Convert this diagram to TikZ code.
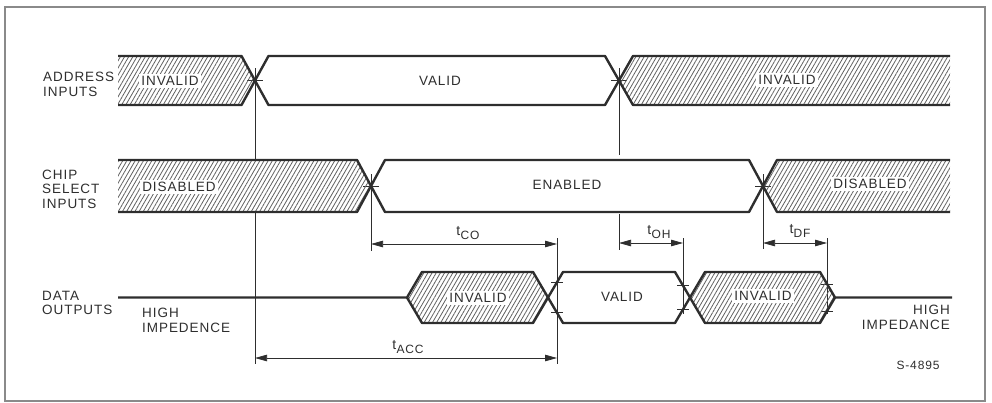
\documentclass[tikz,border=0pt]{standalone}
\usepackage{fontspec}
\setmainfont{Liberation Sans}[LetterSpace=7]
\usetikzlibrary{arrows.meta,patterns.meta}
\definecolor{ink}{HTML}{2E2E2E}
\definecolor{hatchc}{HTML}{606060}
\definecolor{framec}{HTML}{8A8A8A}
\newcommand\tsub[1]{{\fontsize{14}{14}\selectfont t}\kern0.3pt\raisebox{-4pt}{\fontsize{12}{12}\selectfont #1}}
\begin{document}
\begin{tikzpicture}[x=1pt,y=-1pt,
  bus/.style={draw=ink,line width=2.4pt,line join=round},
  hatched/.style={pattern={Lines[angle=60,distance=3.6pt,line width=0.8pt]},pattern color=hatchc},
  guide/.style={draw=ink,line width=0.75pt},
  dimline/.style={draw=ink,line width=0.75pt,{Triangle[length=12pt,width=6.5pt]}-{Triangle[length=12pt,width=6.5pt]}},
  lbl/.style={font=\fontsize{13.5}{14.5}\selectfont,text=ink,inner sep=0pt,align=left},
  buslbl/.style={font=\fontsize{13.5}{14.5}\selectfont,text=ink,fill=white,inner sep=2pt},
  tlbl/.style={text=ink,inner sep=0pt}]
\useasboundingbox (0,0) rectangle (992,402);
\draw[framec,line width=1.4pt] (5,7) rectangle (985,401);

% ---------- guide coordinates ----------
\coordinate (g1a) at (255,68);  \coordinate (g1b) at (255,160);
\coordinate (g1c) at (255,212); \coordinate (g1d) at (255,364);
\coordinate (g2a) at (619,68);  \coordinate (g2b) at (619,155);
\coordinate (g2c) at (619,214); \coordinate (g2d) at (619,250);
\coordinate (g3a) at (371,174); \coordinate (g3b) at (371,251);
\coordinate (g4a) at (763,174); \coordinate (g4b) at (763,249);
\coordinate (g5a) at (557,238); \coordinate (g5b) at (557,364);
\coordinate (g6a) at (683,238); \coordinate (g6b) at (683,314);
\coordinate (g7a) at (827,238); \coordinate (g7b) at (827,314);

\draw[guide] (g1a) -- (g1b); \draw[guide] (g1c) -- (g1d);
\draw[guide] (g2a) -- (g2b); \draw[guide] (g2c) -- (g2d);
\draw[guide] (g3a) -- (g3b);
\draw[guide] (g4a) -- (g4b);
\draw[guide] (g5a) -- (g5b);
\draw[guide] (g6a) -- (g6b);
\draw[guide] (g7a) -- (g7b);

% crossing ticks
\draw[guide] (247,80.5) -- (263,80.5);
\draw[guide] (611,80.5) -- (627,80.5);
\draw[guide] (363,186) -- (379,186);
\draw[guide] (755,186) -- (771,186);
\draw[guide] (551,282.2) -- (563,282.2);
\draw[guide] (551,312.8) -- (563,312.8);
\draw[guide] (677,285.6) -- (689,285.6);
\draw[guide] (677,309.4) -- (689,309.4);
\draw[guide] (821,283.9) -- (833,283.9);
\draw[guide] (821,311.1) -- (833,311.1);

% ---------- hatched areas ----------
\fill[hatched] (118,56) -- (241.5,56) -- (255,80.5) -- (241.5,105) -- (118,105) -- cycle;
\fill[hatched] (950,56) -- (633,56) -- (619,80.5) -- (633,105) -- (950,105) -- cycle;
\fill[hatched] (118,160) -- (357,160) -- (371,186) -- (357,212) -- (118,212) -- cycle;
\fill[hatched] (950,160) -- (777,160) -- (763,186) -- (777,212) -- (950,212) -- cycle;
\fill[hatched] (407,297.5) -- (422,272) -- (533,272) -- (548,297.5) -- (533,323) -- (422,323) -- cycle;
\fill[hatched] (690,297.5) -- (705,272) -- (820,272) -- (835,297.5) -- (820,323) -- (705,323) -- cycle;

% ---------- bus outlines ----------
\draw[bus] (118,56) -- (241.5,56) -- (268.5,105) -- (605,105) -- (633,56) -- (950,56);
\draw[bus] (118,105) -- (241.5,105) -- (268.5,56) -- (605,56) -- (633,105) -- (950,105);
\draw[bus] (118,160) -- (357,160) -- (385,212) -- (749,212) -- (777,160) -- (950,160);
\draw[bus] (118,212) -- (357,212) -- (385,160) -- (749,160) -- (777,212) -- (950,212);
\draw[bus] (118,297.5) -- (407,297.5) -- (422,272) -- (533,272) -- (563,323) -- (675,323) -- (705,272) -- (820,272) -- (835,297.5) -- (952,297.5);
\draw[bus] (407,297.5) -- (422,323) -- (533,323) -- (563,272) -- (675,272) -- (705,323) -- (820,323) -- (835,297.5);

% ---------- dimension arrows ----------
\coordinate (co1) at (371,244); \coordinate (co2) at (557,244);
\coordinate (oh1) at (619,243); \coordinate (oh2) at (683,243);
\coordinate (df1) at (763,243); \coordinate (df2) at (827,243);
\coordinate (ac1) at (255,358); \coordinate (ac2) at (557,358);
\draw[dimline] (co1) -- (co2);
\draw[dimline] (oh1) -- (oh2);
\draw[dimline] (df1) -- (df2);
\draw[dimline] (ac1) -- (ac2);
\node[tlbl] (tco) at (468,233) {\tsub{CO}};
\node[tlbl] (toh) at (659,232) {\tsub{OH}};
\node[tlbl] (tdf) at (800,231) {\tsub{DF}};
\node[tlbl] (tacc) at (408,347) {\tsub{ACC}};

% ---------- signal names ----------
\node[lbl,anchor=west] (addr) at (43,84.5) {ADDRESS\\INPUTS};
\node[lbl,anchor=west] (cs) at (42,189) {CHIP\\SELECT\\INPUTS};
\node[lbl,anchor=west] (dout) at (42,303) {DATA\\OUTPUTS};

% ---------- bus labels ----------
\node[buslbl] (a1) at (170,81) {INVALID};
\node[buslbl] (a2) at (440,81) {VALID};
\node[buslbl] (a3) at (787,80) {INVALID};
\node[buslbl] (c1) at (179,187) {DISABLED};
\node[buslbl] (c2) at (567,185) {ENABLED};
\node[buslbl] (c3) at (870,184) {DISABLED};
\node[buslbl] (d1) at (478,298) {INVALID};
\node[buslbl] (d2) at (622,297) {VALID};
\node[buslbl] (d3) at (763,296) {INVALID};

\node[lbl,anchor=west] (hz1) at (142,320.5) {HIGH\\IMPEDENCE};
\node[lbl,anchor=east,align=right] (hz2) at (950,317.5) {HIGH\\IMPEDANCE};
\node[tlbl,font=\fontsize{12}{13}\selectfont] (ref) at (918,365) {S-4895};
\end{tikzpicture}
\end{document}
